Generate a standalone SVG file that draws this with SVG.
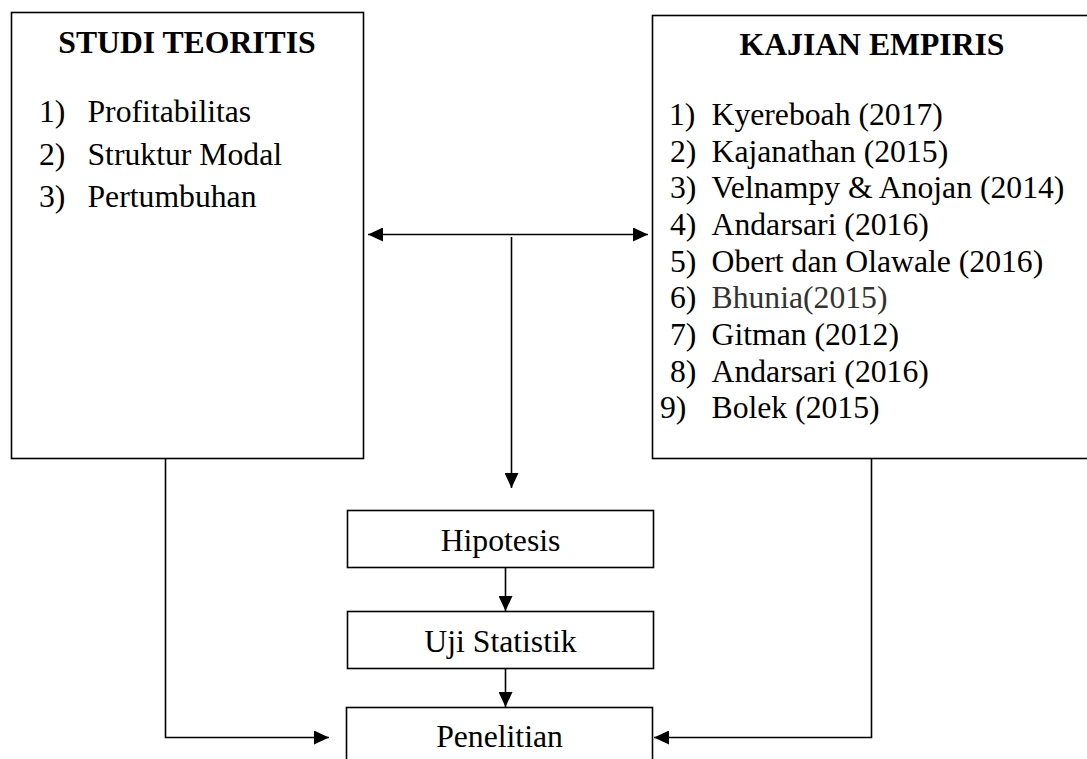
<svg xmlns="http://www.w3.org/2000/svg" width="1087" height="759" viewBox="0 0 1087 759">
<defs>
<style>
.box{fill:#fff;stroke:#000;stroke-width:1.6}
.t{font-family:"Liberation Serif","Times New Roman",serif;font-size:31.7px;fill:#000}
.b{font-weight:bold}
.c{text-anchor:middle}
.ln{fill:none;stroke:#000;stroke-width:1.6}
</style>
<marker id="ah" viewBox="0 0 15 14" refX="15" refY="7" markerWidth="15" markerHeight="14" markerUnits="userSpaceOnUse" orient="auto-start-reverse">
<path d="M0,0 L15,7 L0,14 Z" fill="#000"/>
</marker>
</defs>
<rect width="1087" height="759" fill="#fff"/>
<g id="studi-teoritis">
<rect class="box" x="11.5" y="12.5" width="352" height="446"/>
<text class="t b c" x="187" y="53">STUDI TEORITIS</text>
<text class="t" x="39" y="122">1)</text><text class="t" x="87.5" y="122">Profitabilitas</text>
<text class="t" x="39" y="164.5">2)</text><text class="t" x="87.5" y="164.5">Struktur Modal</text>
<text class="t" x="39" y="207">3)</text><text class="t" x="87.5" y="207">Pertumbuhan</text>
</g>
<g id="kajian-empiris">
<rect class="box" x="652.5" y="15.5" width="450" height="443"/>
<text class="t b c" x="872" y="55">KAJIAN EMPIRIS</text>
<text class="t" x="669" y="125">1)</text><text class="t" x="711.5" y="125">Kyereboah (2017)</text>
<text class="t" x="670" y="161.5">2)</text><text class="t" x="711.5" y="161.5">Kajanathan (2015)</text>
<text class="t" x="670" y="198">3)</text><text class="t" x="711.5" y="198">Velnampy &amp; Anojan (2014)</text>
<text class="t" x="670" y="235">4)</text><text class="t" x="711.5" y="235">Andarsari (2016)</text>
<text class="t" x="670" y="271.5">5)</text><text class="t" x="711.5" y="271.5">Obert dan Olawale (2016)</text>
<text class="t" x="670" y="308">6)</text><text class="t" x="711.5" y="308" fill="#333" style="fill:#333">Bhunia(2015)</text>
<text class="t" x="670" y="345">7)</text><text class="t" x="711.5" y="345">Gitman (2012)</text>
<text class="t" x="670" y="381.5">8)</text><text class="t" x="711.5" y="381.5">Andarsari (2016)</text>
<text class="t" x="660" y="418">9)</text><text class="t" x="711.5" y="418">Bolek (2015)</text>
</g>
<g id="hipotesis">
<rect class="box" x="347.5" y="510.5" width="306" height="57"/>
<text class="t c" x="500.5" y="551">Hipotesis</text>
</g>
<g id="uji-statistik">
<rect class="box" x="347.5" y="611.5" width="306" height="57"/>
<text class="t c" x="500.5" y="652">Uji Statistik</text>
</g>
<g id="penelitian">
<rect class="box" x="346.5" y="707.5" width="306" height="80"/>
<text class="t c" x="499.5" y="747">Penelitian</text>
</g>
<g id="connectors">
<line class="ln" x1="368" y1="234.5" x2="648" y2="234.5" marker-start="url(#ah)" marker-end="url(#ah)"/>
<line class="ln" x1="511.5" y1="237" x2="511.5" y2="488" marker-end="url(#ah)"/>
<line class="ln" x1="505.5" y1="568" x2="505.5" y2="611" marker-end="url(#ah)"/>
<line class="ln" x1="505.5" y1="669" x2="505.5" y2="707" marker-end="url(#ah)"/>
<polyline class="ln" points="165.5,459 165.5,737.5 329,737.5" marker-end="url(#ah)"/>
<polyline class="ln" points="871.5,459 871.5,737.5 654,737.5" marker-end="url(#ah)"/>
</g>
</svg>
